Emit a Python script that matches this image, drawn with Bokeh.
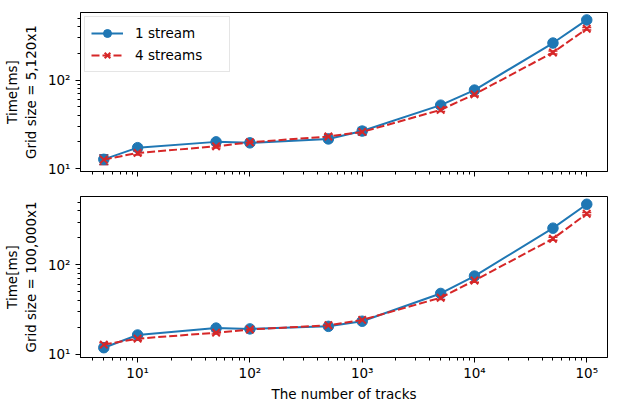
from bokeh.plotting import figure
from bokeh.layouts import column
from bokeh.models import (ColumnDataSource, FixedTicker, Whisker, TeeHead, Range1d,
                          CustomJSTickFormatter, Legend, LegendItem)
from bokeh.embed import file_html
from bokeh.resources import INLINE

tracks = [5, 10, 50, 100, 500, 1000, 5000, 10000, 50000, 100000]
top_1 = [12.7, 17.2, 20.0, 19.5, 21.6, 26.5, 52, 77, 262, 478]
top_1_err = [1.6, 1.2, 1.0, 1.2, 1.5, 2.6, 3, 4, 12, 20]
top_4 = [12.6, 15.0, 17.8, 19.8, 23.0, 25.9, 46, 69, 205, 380]
top_4_err = [1.5, 0.8, 0.8, 1.0, 1.2, 1.5, 2, 3, 8, 12]
bot_1 = [11.9, 16.5, 19.7, 19.3, 20.6, 23.5, 48, 75, 257, 475]
bot_1_err = [0.6, 0.6, 0.6, 0.6, 0.6, 0.8, 2, 3, 8, 14]
bot_4 = [12.9, 15.0, 17.5, 19.0, 21.2, 24.3, 43, 67, 196, 372]
bot_4_err = [0.6, 0.6, 0.6, 0.6, 0.6, 0.8, 2, 3, 8, 12]

x_major = [10, 100, 1000, 10000, 100000]
x_minor = [m * 10 ** e for e in range(0, 6) for m in range(2, 10)]
y_major = [10, 100]
y_minor = [m * 10 ** e for e in range(0, 3) for m in range(2, 10)]

BLUE = "#1f77b4"
RED = "#d62728"
FONT = "DejaVu Sans"
FS = "13.5px"

sup_fmt = CustomJSTickFormatter(code="""
const sup = {'0':'\u2070','1':'\u00b9','2':'\u00b2','3':'\u00b3','4':'\u2074','5':'\u2075','6':'\u2076','7':'\u2077','8':'\u2078','9':'\u2079'};
const e = Math.round(Math.log10(tick));
return '10' + String(e).split('').map(c => sup[c]).join('');
""")
blank_fmt = CustomJSTickFormatter(code="return '';")


def make_fig(fh, top, bottom, ylabel, d1, e1, d4, e4, show_x, legend):
    p = figure(frame_width=527, frame_height=fh, x_axis_type="log", y_axis_type="log",
               x_range=Range1d(3.1, 153000), y_range=Range1d(9.25, 580),
               output_backend="svg", toolbar_location=None,
               min_border_left=75, min_border_right=1,
               min_border_top=top, min_border_bottom=bottom)
    p.grid.visible = False
    p.outline_line_color = "black"
    p.outline_line_width = 1
    for ax in (p.xaxis[0], p.yaxis[0]):
        ax.axis_line_color = "black"
        ax.major_tick_line_color = "black"
        ax.minor_tick_line_color = "black"
        ax.major_tick_out = 5
        ax.major_tick_in = 0
        ax.minor_tick_out = 3
        ax.minor_tick_in = 0
        ax.major_label_text_font = FONT
        ax.major_label_text_font_size = FS
        ax.major_label_text_color = "black"
        ax.axis_label_text_font = FONT
        ax.axis_label_text_font_size = FS
        ax.axis_label_text_font_style = "normal"
        ax.axis_label_text_color = "black"
        ax.formatter = sup_fmt
    p.xaxis.ticker = FixedTicker(ticks=x_major, minor_ticks=x_minor)
    p.yaxis.ticker = FixedTicker(ticks=y_major, minor_ticks=y_minor)
    p.yaxis.axis_label = ylabel
    p.yaxis.axis_label_standoff = 6
    if show_x:
        p.xaxis.axis_label = "The number of tracks"
        p.xaxis.axis_label_standoff = 2
        p.xaxis.major_label_standoff = 2
    else:
        p.xaxis.formatter = blank_fmt
        p.xaxis.major_label_standoff = 0

    s1 = ColumnDataSource(dict(x=tracks, y=d1, lo=[a - b for a, b in zip(d1, e1)],
                               hi=[a + b for a, b in zip(d1, e1)]))
    s4 = ColumnDataSource(dict(x=tracks, y=d4, lo=[a - b for a, b in zip(d4, e4)],
                               hi=[a + b for a, b in zip(d4, e4)]))

    for s, c in ((s1, BLUE), (s4, RED)):
        w = Whisker(source=s, base="x", lower="lo", upper="hi", line_color=c, line_width=1.5,
                    upper_head=TeeHead(size=9, line_color=c, line_width=1.5),
                    lower_head=TeeHead(size=9, line_color=c, line_width=1.5))
        p.add_layout(w)

    l1 = p.line("x", "y", source=s1, line_color=BLUE, line_width=2)
    m1 = p.scatter("x", "y", source=s1, marker="circle", size=10.5, fill_color=BLUE, line_color=BLUE)
    l4 = p.line("x", "y", source=s4, line_color=RED, line_width=2, line_dash="8 3")
    m4 = p.scatter("x", "y", source=s4, marker="x", size=10.5, line_color=RED, line_width=2)

    if legend:
        lg = Legend(items=[LegendItem(label="1 stream", renderers=[l1, m1]),
                           LegendItem(label="4 streams", renderers=[l4, m4])],
                    location="top_left", label_text_font=FONT, label_text_font_size=FS,
                    label_text_color="black",
                    border_line_color="#cccccc", border_line_width=1,
                    background_fill_alpha=0.8, glyph_width=32, glyph_height=20,
                    label_standoff=12, spacing=2, padding=6, margin=4,
                    label_height=20, label_width=88)
        p.add_layout(lg)
    return p


p1 = make_fig(159, 12, 12, "Time[ms]\nGrid size = 5,120x1", top_1, top_1_err, top_4, top_4_err, False, True)
p2 = make_fig(161, 13, 40, "Time[ms]\nGrid size = 100,000x1", bot_1, bot_1_err, bot_4, bot_4_err, True, False)

layout = column(p1, p2, spacing=0)
open("out.html", "w").write(file_html(layout, INLINE))
